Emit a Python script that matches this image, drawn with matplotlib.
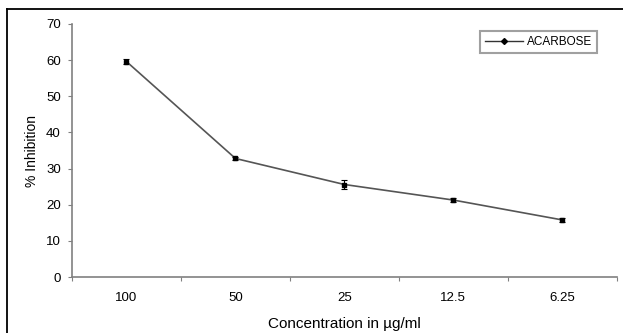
import matplotlib
matplotlib.use('Agg')
import matplotlib.pyplot as plt
from matplotlib.lines import Line2D
import numpy as np

plt.rcParams['font.family'] = ['Liberation Sans', 'DejaVu Sans']

# data
conc_labels = ['100', '50', '25', '12.5', '6.25']
inhibition = [59.6, 32.8, 25.6, 21.3, 15.8]
inhibition_err = [0.6, 0.5, 1.2, 0.6, 0.5]

fig = plt.figure(figsize=(6.23, 3.33), dpi=100)
ax = fig.add_axes([0.1156, 0.168, 0.8744, 0.76])

x = np.arange(len(conc_labels)) + 0.5
ax.errorbar(x, inhibition, yerr=inhibition_err, color='#555555', lw=1.2,
            marker='s', ms=3.5, mfc='black', mec='black',
            ecolor='black', elinewidth=0.8, capsize=2, capthick=0.8)

ax.set_xlim(0, len(conc_labels))
ax.set_ylim(0, 70)
ax.set_yticks(range(0, 71, 10))
# ticks between categories, labels centred
ax.set_xticks(range(0, len(conc_labels) + 1))
ax.set_xticklabels([])
ax.set_xticks(x, minor=True)
ax.set_xticklabels(conc_labels, minor=True)
ax.tick_params(axis='x', which='minor', length=0, pad=11, labelsize=9.5)
ax.tick_params(axis='x', which='major', length=3, color='#808080', direction='out')
ax.tick_params(axis='y', length=3, color='#808080', labelsize=9.5, pad=5)

for s in ['top', 'right']:
    ax.spines[s].set_visible(False)
for s in ['left', 'bottom']:
    ax.spines[s].set_color('#808080')
    ax.spines[s].set_linewidth(1.2)

ax.set_ylabel('% Inhibition', fontsize=10, labelpad=5)
ax.set_xlabel('Concentration in µg/ml', fontsize=11, labelpad=9)

handle = Line2D([], [], color='#333333', lw=1, marker='D', ms=3, mfc='black', mec='black')
leg = ax.legend([handle], ['ACARBOSE'], loc='upper right',
                bbox_to_anchor=(0.975, 0.995), fontsize=8.5,
                fancybox=False, handlelength=3.2, borderpad=0.4,
                handletextpad=0.4)
leg.get_frame().set_edgecolor('#888888')
leg.get_frame().set_linewidth(1.5)

# black frame around the picture (left and top visible)
fig.add_artist(Line2D([7/623, 7/623], [0, 1 - 9/333], transform=fig.transFigure, color='black', lw=1.3))
fig.add_artist(Line2D([7/623, 1], [1 - 9/333, 1 - 9/333], transform=fig.transFigure, color='black', lw=1.3))

fig.savefig('out.png', dpi=100)
